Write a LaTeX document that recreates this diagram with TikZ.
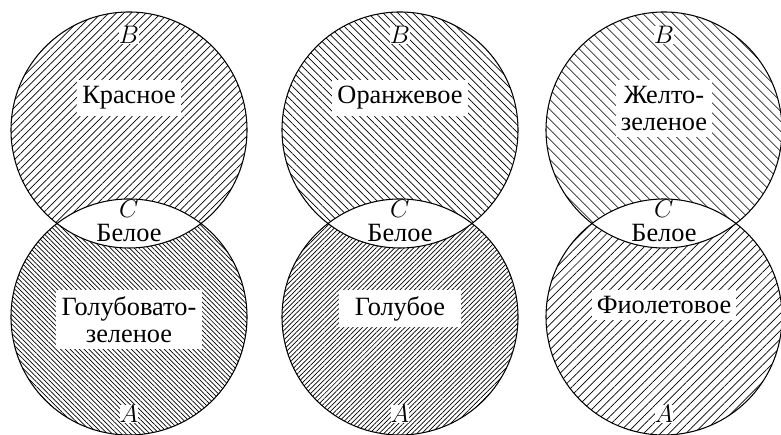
\documentclass[tikz,border=0pt]{standalone}
\usepackage{fontspec}
\setmainfont{Liberation Serif}
\usepackage{tikz}
\usetikzlibrary{patterns.meta}

\begin{document}
\begin{tikzpicture}[x=0.02cm, y=0.02cm,
  colorlabel/.style={fill=white, anchor=north, align=center,
        inner xsep=3pt, inner ysep=3.5pt, font=\fontsize{15}{15.5}\selectfont},
  letter/.style={fill=white, inner sep=0pt, font=\fontsize{15}{16}\selectfont}]

  \useasboundingbox (0,0) rectangle (781,435);

  % each pair: upper circle B, lower circle A, white lens C
  \foreach \cx/\ta/\td/\ba/\bd/\tn/\tl/\bn/\bl in {
      129/45/3pt/-45/1.9pt/red/{Красное}/cyan/{Голубовато-\\зеленое},
      400/-45/3pt/45/1.9pt/orange/{Оранжевое}/blue/{\hspace{6pt}Голубое\hspace{6pt}},
      664/-45/4pt/45/3.4pt/yellow/{Желто-\\зеленое}/violet/{Фиолетовое}} {

    \pattern[pattern={Lines[angle=\ta, distance=\td, line width=0.4pt]}]
      (\cx,305) circle[radius=118];
    \pattern[pattern={Lines[angle=\ba, distance=\bd, line width=0.4pt]}]
      (\cx,118) circle[radius=118];

    \begin{scope}
      \clip (\cx,305) circle[radius=118];
      \fill[white] (\cx,118) circle[radius=118];
    \end{scope}

    \draw[line width=0.6pt] (\cx,305) circle[radius=118]
                            (\cx,118) circle[radius=118];

    \node[letter] (B-\tn) at (\cx,400) {$B$};
    \node[letter] (C-\tn) at (\cx,226) {$C$};
    \node[font=\fontsize{15}{15.5}\selectfont, inner sep=0pt]
      (white-\tn) at (\cx,202) {Белое};
    \node[letter] (A-\tn) at (\cx,21) {$A$};

    \node[colorlabel] (\tn) at (\cx,355) {\tl};
    \node[colorlabel] (\bn) at (\cx,145) {\bl};
  }

\end{tikzpicture}
\end{document}
